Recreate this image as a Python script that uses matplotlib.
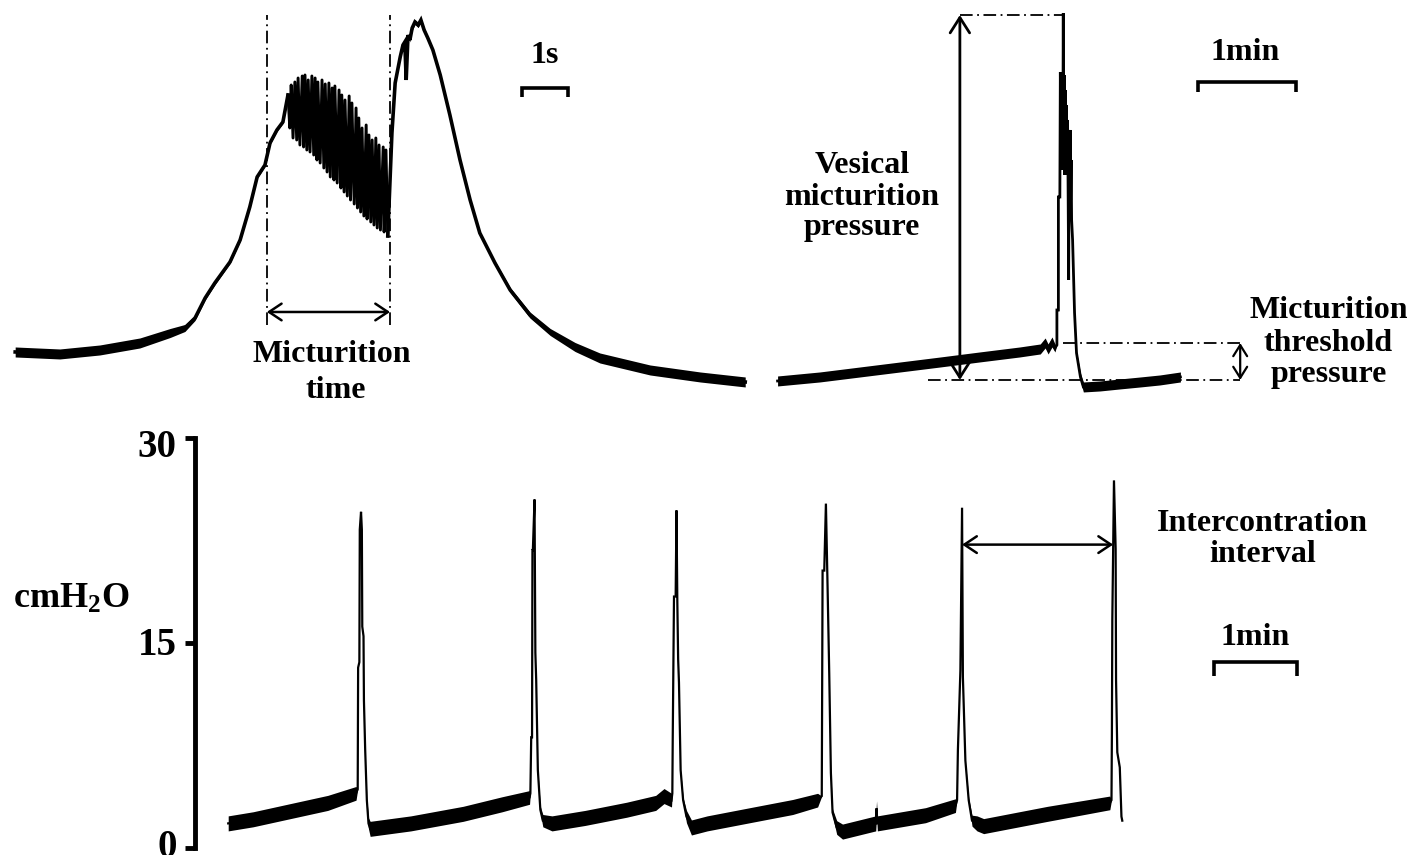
import numpy as np
import matplotlib
matplotlib.use('Agg')
import matplotlib.pyplot as plt

plt.rcParams['font.family'] = ['Liberation Serif', 'DejaVu Serif']
plt.rcParams['font.weight'] = 'bold'
plt.rcParams['mathtext.fontset'] = 'custom'
plt.rcParams['mathtext.rm'] = 'Liberation Serif:bold'
plt.rcParams['mathtext.it'] = 'Liberation Serif:bold'
plt.rcParams['mathtext.bf'] = 'Liberation Serif:bold'
plt.rcParams['mathtext.default'] = 'rm'

# ---- top left: single micturition, time in s, pressure in a.u.
tl_t_rise = [0.33, 1.30, 2.17, 3.04, 3.70, 4.02, 4.24, 4.46, 4.67, 5.00, 5.22, 5.43, 5.59, 5.76, 5.87, 6.02, 6.15]
tl_p_rise = [5.8, 5.6, 6.0, 6.7, 7.7, 8.2, 9.2, 11.2, 12.7, 14.8, 17.0, 20.3, 23.3, 24.5, 26.7, 28.0, 28.8]
tl_w_rise = [1.0, 1.0, 1.0, 1.0, 0.9, 0.7, 0.5, 0.4, 0.4, 0.3, 0.3, 0.3, 0.3, 0.3, 0.3, 0.3, 0.3]

# high frequency oscillations during voiding (tips and troughs)
osc_t_peak = [6.26, 6.33, 6.41, 6.48, 6.57, 6.63, 6.70, 6.78, 6.85, 6.91, 7.00, 7.07, 7.15, 7.22, 7.28,
              7.37, 7.43, 7.50, 7.59, 7.65, 7.74, 7.80, 7.87, 7.96, 8.02, 8.09, 8.17, 8.24, 8.33, 8.39]
osc_p_peak = [31.5, 32.5, 32.8, 33.2, 33.4, 33.5, 33.0, 33.4, 33.2, 32.8, 33.0, 32.6, 32.7, 32.2, 32.4,
              32.0, 31.5, 31.0, 31.4, 30.7, 30.2, 29.2, 28.2, 28.5, 27.5, 27.0, 27.2, 26.5, 26.3, 26.0]
osc_t_trough = [6.30, 6.37, 6.45, 6.52, 6.60, 6.67, 6.74, 6.82, 6.89, 6.96, 7.04, 7.11, 7.18, 7.26, 7.33,
                7.41, 7.48, 7.55, 7.62, 7.70, 7.77, 7.84, 7.91, 7.98, 8.06, 8.13, 8.20, 8.27, 8.35, 8.43]
osc_p_trough = [28.2, 27.2, 27.0, 26.5, 26.3, 26.0, 25.8, 25.5, 25.0, 24.7, 24.2, 23.8, 23.3, 23.0, 22.7,
                22.2, 21.8, 21.4, 21.0, 20.6, 20.2, 19.8, 19.4, 19.1, 18.8, 18.5, 18.2, 18.0, 17.8, 17.4]

tl_t_fall = [8.52, 8.59, 8.70, 8.76, 8.80, 8.83, 8.87, 8.91, 8.96, 9.02, 9.09, 9.15, 9.22, 9.30, 9.41,
             9.57, 9.78, 10.00, 10.22, 10.43, 10.76, 11.09, 11.52, 11.96, 12.50, 13.04, 14.13, 15.22, 16.20]
tl_p_fall = [27.7, 32.7, 35.3, 36.5, 36.8, 33.0, 37.5, 37.0, 38.2, 38.8, 38.5, 39.0, 38.0, 37.2, 36.0,
             33.5, 29.5, 25.0, 21.0, 17.7, 14.7, 12.0, 9.5, 7.8, 6.3, 5.2, 4.0, 3.3, 2.8]
tl_w_fall = [0.0, 0.0, 0.3, 0.3, 0.0, 0.0, 0.0, 0.4, 0.5, 0.5, 0.5, 0.5, 0.5, 0.4, 0.4,
             0.3, 0.3, 0.3, 0.3, 0.3, 0.4, 0.5, 0.6, 0.7, 0.9, 1.0, 1.0, 1.0, 1.0]

# ---- top right: one cystometric cycle, time in min
tr_t = [0.18, 0.61, 1.02, 1.43, 1.84, 2.24, 2.65, 2.86, 2.91, 2.94, 2.98, 3.01, 3.03, 3.03, 3.045, 3.045,
        3.06, 3.065, 3.07, 3.075, 3.08, 3.085, 3.09, 3.095, 3.10, 3.105, 3.11, 3.115, 3.12, 3.125, 3.13,
        3.135, 3.14, 3.145, 3.15, 3.155, 3.16, 3.165, 3.17, 3.175, 3.18, 3.19, 3.21, 3.23,
        3.27, 3.30, 3.47, 3.67, 3.88, 4.08, 4.29]
tr_p = [2.9, 3.3, 3.8, 4.3, 4.8, 5.3, 5.8, 6.1, 6.7, 6.1, 6.8, 6.2, 6.5, 10.0, 10.0, 21.3,
        21.3, 33.8, 26.0, 32.0, 24.0, 33.0, 25.0, 39.7, 24.0, 33.5, 23.5, 32.0, 24.5, 30.5, 23.5,
        29.0, 28.0, 21.0, 13.0, 27.5, 22.0, 28.0, 21.0, 25.0, 19.0, 17.0, 9.7, 5.7,
        3.3, 2.3, 2.4, 2.6, 2.8, 3.0, 3.3]
tr_w = [1.0, 1.0, 1.0, 1.0, 1.0, 1.0, 1.0, 1.0, 1.0, 1.0, 1.0, 0.8, 0.0, 0.0, 0.0, 0.0,
        0.0, 0.0, 0.0, 0.0, 0.0, 0.0, 0.0, 0.0, 0.0, 0.0, 0.0, 0.0, 0.0, 0.0, 0.0,
        0.0, 0.0, 0.0, 0.0, 0.0, 0.0, 0.0, 0.0, 0.0, 0.0, 0.0, 0.0, 0.4,
        0.8, 1.0, 1.0, 1.0, 1.0, 1.0, 1.0]

# ---- bottom: continuous cystometry, time in min, pressure in cmH2O
b_t = [0.40, 0.70, 1.00, 1.30, 1.60, 1.94,
       1.96, 1.965, 1.98, 1.985, 2.00, 2.01, 2.015, 2.03, 2.035, 2.05, 2.07, 2.09,
       2.11, 2.60, 3.23, 3.70, 4.03,
       4.04, 4.05, 4.06, 4.065, 4.07, 4.09, 4.10, 4.11, 4.13, 4.16, 4.19,
       4.30, 4.70, 5.20, 5.55, 5.65, 5.74,
       5.75, 5.755, 5.77, 5.79, 5.80, 5.81, 5.82, 5.83, 5.85, 5.88, 5.92,
       5.98, 6.17, 6.77, 7.20, 7.50,
       7.55, 7.56, 7.58, 7.60, 7.62, 7.64, 7.66, 7.68, 7.73,
       7.80, 8.20, 8.21, 8.22, 8.80, 9.16,
       9.18, 9.19, 9.22, 9.24, 9.25, 9.28, 9.32, 9.36,
       9.42, 9.50, 10.27, 11.02,
       11.04, 11.045, 11.05, 11.07, 11.09, 11.095, 11.11, 11.14, 11.16, 11.17]
b_p = [1.8, 2.1, 2.5, 2.9, 3.3, 4.0,
       4.3, 13.2, 13.6, 23.3, 24.6, 23.3, 16.2, 15.5, 10.8, 7.2, 3.5, 1.8,
       1.4, 1.8, 2.5, 3.2, 3.7,
       4.0, 8.1, 8.1, 21.8, 21.8, 25.5, 14.3, 12.3, 5.7, 2.8, 2.0,
       1.8, 2.2, 2.8, 3.3, 3.8, 3.5,
       4.0, 8.1, 18.4, 18.4, 24.7, 18.1, 13.8, 12.1, 5.7, 3.5, 2.3,
       1.5, 1.8, 2.5, 3.0, 3.5,
       3.8, 20.3, 20.3, 25.2, 19.1, 12.8, 5.5, 2.6, 1.5,
       1.2, 1.8, 2.9, 1.8, 2.4, 3.1,
       3.5, 7.2, 13.0, 24.9, 12.5, 6.4, 3.5, 2.0,
       1.8, 1.6, 2.5, 3.3,
       3.5, 8.4, 16.7, 26.9, 21.9, 12.3, 7.0, 5.9, 2.3, 2.0]
b_w = [1.1, 1.1, 1.1, 1.1, 1.1, 1.0,
       0, 0, 0, 0, 0, 0, 0, 0, 0, 0, 0.3, 0.8,
       1.1, 1.1, 1.1, 1.1, 1.0,
       0, 0, 0, 0, 0, 0, 0, 0, 0, 0.5, 0.9,
       1.1, 1.1, 1.1, 1.1, 1.1, 1.0,
       0, 0, 0, 0, 0, 0, 0, 0, 0, 0.4, 0.9,
       1.1, 1.1, 1.1, 1.1, 1.0,
       0, 0, 0, 0, 0, 0, 0, 0.5, 1.0,
       1.1, 1.1, 1.1, 1.1, 1.1, 1.0,
       0, 0, 0, 0, 0, 0, 0.3, 0.8,
       1.1, 1.1, 1.1, 1.0,
       0, 0, 0, 0, 0, 0, 0, 0, 0, 0]

y_ticks = [0, 15, 30]

DASH = (0, (7, 2.5, 1, 2.5))
TXT = 23


def draw_trace(ax, t, p, w, lw):
    t = np.asarray(t, dtype=float)
    p = np.asarray(p, dtype=float)
    w = np.asarray(w, dtype=float)
    ax.fill_between(t, p - w / 2, p + w / 2, color='black', lw=0)
    ax.plot(t, p, color='black', lw=lw, solid_joinstyle='miter')


def double_arrow(ax, a, b, hl=0.45, hw=0.3, lw=1.8):
    ax.annotate('', xy=b, xytext=a,
                arrowprops=dict(arrowstyle='<->,head_length=%g,head_width=%g' % (hl, hw),
                                lw=lw, color='black', shrinkA=0, shrinkB=0, mutation_scale=20))


def scale_bar(ax, x0, x1, y, drop):
    ax.plot([x0, x0, x1, x1], [y - drop, y, y, y - drop], color='black', lw=2.6,
            solid_joinstyle='miter', solid_capstyle='butt')


fig = plt.figure(figsize=(14.12, 8.55), dpi=100)

# ---------------- top left
ax1 = fig.add_axes([0, 0.5205, 0.5382, 0.4795])
ax1.set_xlim(0, 16.52)
ax1.set_ylim(0, 41)
ax1.axis('off')

osc_t = np.empty(2 * len(osc_t_peak))
osc_t[0::2] = osc_t_peak
osc_t[1::2] = osc_t_trough
osc_p = np.empty(2 * len(osc_p_peak))
osc_p[0::2] = osc_p_peak
osc_p[1::2] = osc_p_trough
draw_trace(ax1, tl_t_rise + [osc_t[0]], tl_p_rise + [osc_p[0]], tl_w_rise + [0], 2.6)
ax1.plot(osc_t, osc_p, color='black', lw=2.1)
draw_trace(ax1, [osc_t[-1]] + tl_t_fall, [osc_p[-1]] + tl_p_fall, [0] + tl_w_fall, 2.6)

for tx in (5.80, 8.48):
    ax1.plot([tx, tx], [8.5, 39.5], color='black', lw=1.3, ls=DASH)
double_arrow(ax1, (5.80, 9.8), (8.48, 9.8))
ax1.text(7.22, 4.8, 'Micturition', ha='center', va='baseline', fontsize=TXT)
ax1.text(7.30, 1.2, 'time', ha='center', va='baseline', fontsize=TXT)
scale_bar(ax1, 11.35, 12.35, 32.2, 0.9)
ax1.text(11.85, 34.7, '1s', ha='center', va='baseline', fontsize=TXT)

# ---------------- top right
ax2 = fig.add_axes([0.5382, 0.5205, 0.4618, 0.4795])
ax2.set_xlim(0, 6.653)
ax2.set_ylim(0, 41)
ax2.axis('off')
draw_trace(ax2, tr_t, tr_p, tr_w, 2.0)

ax2.plot([2.04, 3.09], [39.5, 39.5], color='black', lw=1.3, ls=DASH)
ax2.plot([1.71, 4.90], [3.0, 3.0], color='black', lw=1.3, ls=DASH)
ax2.plot([3.09, 4.90], [6.7, 6.7], color='black', lw=1.3, ls=DASH)
double_arrow(ax2, (2.04, 3.0), (2.04, 39.5), hl=0.55, hw=0.35, lw=2.0)
double_arrow(ax2, (4.90, 3.0), (4.90, 6.7), hl=0.4, hw=0.25, lw=1.6)
for txt, yy in (('Vesical', 23.7), ('micturition', 20.5), ('pressure', 17.5)):
    ax2.text(1.04, yy, txt, ha='center', va='baseline', fontsize=TXT)
for txt, yy in (('Micturition', 9.2), ('threshold', 5.9), ('pressure', 2.8)):
    ax2.text(5.80, yy, txt, ha='center', va='baseline', fontsize=TXT)
scale_bar(ax2, 4.47, 5.47, 32.8, 1.0)
ax2.text(4.95, 35.0, '1min', ha='center', va='baseline', fontsize=TXT)

# ---------------- bottom
ax3 = fig.add_axes([0.1381, 0.0082, 0.8619, 0.4795])
ax3.set_xlim(0, 14.66)
ax3.set_ylim(0, 30)
for s in ('top', 'right', 'bottom'):
    ax3.spines[s].set_visible(False)
ax3.spines['left'].set_linewidth(3.5)
ax3.spines['left'].set_bounds(0, 30)
ax3.set_xticks([])
ax3.set_yticks(y_ticks)
ax3.tick_params(axis='y', length=7, width=3.5, labelleft=False)
ax3.patch.set_visible(False)
# tick labels as text: the top one sits a little under its tick in the original
for v, dy in zip(y_ticks, (0.0, -0.15, -0.7)):
    ax3.text(-0.22, v + dy, str(v), ha='right', va='center', fontsize=28)

draw_trace(ax3, b_t, b_p, b_w, 1.6)

double_arrow(ax3, (9.24, 22.2), (11.06, 22.2))
ax3.text(12.86, 23.2, 'Intercontration', ha='center', va='baseline', fontsize=TXT)
ax3.text(12.86, 20.9, 'interval', ha='center', va='baseline', fontsize=TXT)
scale_bar(ax3, 12.28, 13.28, 13.6, 1.0)
ax3.text(12.77, 14.85, '1min', ha='center', va='baseline', fontsize=TXT)
ax3.text(-1.49, 17.6, r'cmH$_2$O', ha='center', va='baseline', fontsize=26)

fig.savefig('out.png', dpi=100)
